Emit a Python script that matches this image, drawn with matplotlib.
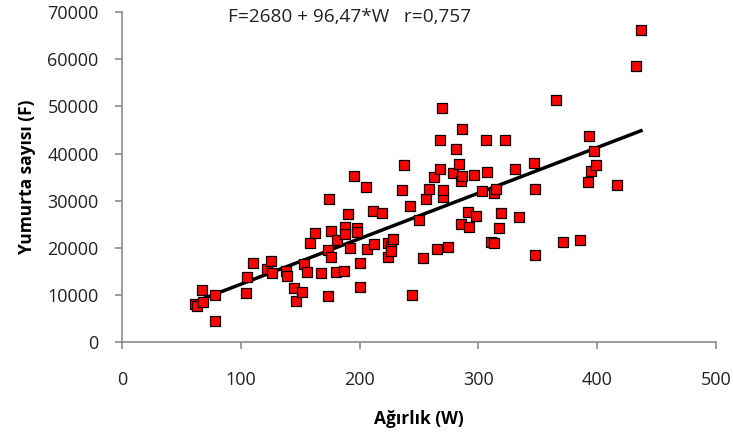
import numpy as np
import matplotlib.pyplot as plt

plt.rcParams['font.family'] = ['Open Sans', 'DejaVu Sans']

# Ağırlık (W) ve yumurta sayısı (F)
agirlik = [61, 63, 68, 67, 78, 78, 104, 105, 110, 122, 125, 126, 138, 139, 145,
           146, 151, 153, 156, 162, 158, 167, 174, 173, 173, 176, 176, 180, 181,
           187, 188, 188, 190, 192, 195, 198, 198, 200, 200, 205, 206, 211, 212,
           219, 224, 224, 226, 226, 228, 236, 237, 242, 250, 253, 244, 256, 258,
           263, 265, 268, 268, 269, 270, 270, 274, 279, 281, 284, 285, 286, 286,
           285, 291, 292, 296, 298, 303, 306, 307, 311, 313, 313, 315, 317, 319,
           322, 331, 334, 347, 348, 348, 365, 371, 386, 393, 392, 395, 397, 399,
           417, 433, 437]
yumurta = [8070, 7770, 8490, 11100, 10040, 4520, 10470, 13860, 16770, 15630,
           17260, 14650, 15140, 14080, 11530, 8770, 10740, 16560, 14990, 23140,
           21150, 14710, 30360, 9830, 19600, 23630, 18110, 14990, 21720, 15200,
           24540, 22930, 27170, 20080, 35160, 24200, 23350, 16900, 11680, 32910,
           19870, 27730, 20870, 27390, 18050, 21150, 20440, 19380, 21870, 32330,
           37640, 28870, 25960, 17830, 10040, 30360, 32480, 35030, 19870, 36790,
           42880, 49590, 30780, 32330, 20300, 35880, 40890, 37850, 34100, 35160,
           45280, 25110, 27660, 24540, 35450, 26750, 32060, 42880, 36150, 21290,
           21150, 31700, 32550, 24270, 27390, 42880, 36790, 26540, 37920, 32480,
           18470, 51440, 21360, 21780, 43650, 33880, 36300, 40460, 37490, 33390,
           58510, 66150]

a, b = 2680, 96.47   # regresyon: F = a + b*W
w_line = np.array([min(agirlik), max(agirlik)])

fig = plt.figure(figsize=(7.33, 4.41), dpi=100)
ax = fig.add_axes([0.1669, 0.2238, 0.8096, 0.749])

ax.plot(w_line, a + b * w_line, color='black', linewidth=2.5, zorder=2)
ax.scatter(agirlik, yumurta, marker='s', s=62, color='red',
           edgecolors='black', linewidths=0.9, zorder=3)

ax.set_xlim(0, 500)
ax.set_ylim(0, 70000)
ax.set_xticks(range(0, 501, 100))
ax.set_yticks(range(0, 70001, 10000))

for s in ['top', 'right']:
    ax.spines[s].set_visible(False)
for s in ['left', 'bottom']:
    ax.spines[s].set_color('#8c8c8c')
    ax.spines[s].set_linewidth(1.2)
ax.tick_params(axis='both', colors='#8c8c8c', labelcolor='#222222',
               labelsize=13, length=5, width=1.2)
ax.tick_params(axis='x', pad=16)
ax.tick_params(axis='y', pad=12)

ax.set_xlabel('Ağırlık (W)', fontsize=12.5, fontweight='bold', labelpad=15)
ax.set_ylabel('Yumurta sayısı (F)', fontsize=12.5, fontweight='bold', labelpad=8)

fig.text(0.477, 0.962, 'F=2680 + 96,47*W   r=0,757', fontsize=13.7,
         ha='center', va='center', color='#222222')

plt.savefig('out.png', dpi=100)
